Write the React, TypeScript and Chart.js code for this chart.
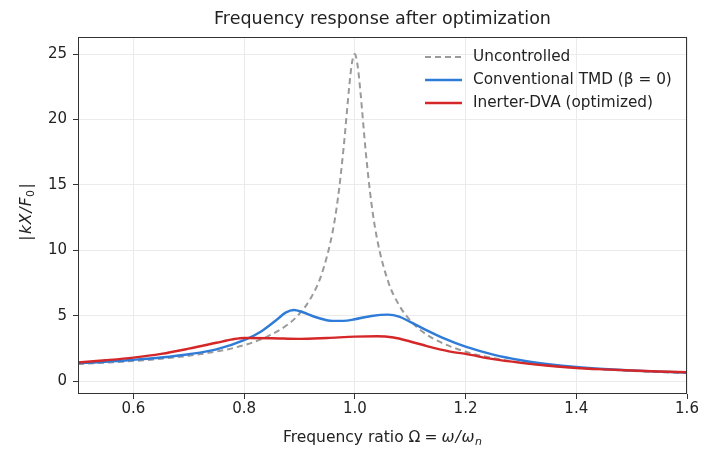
import React, { useEffect, useRef } from 'react';
import { Chart, registerables } from 'chart.js';

Chart.register(...registerables);

const W = 702;
const H = 451;
const FONT = '"DejaVu Sans", "Liberation Sans", sans-serif';

// ---- data ----
const omegaUnc = [0.5, 0.55, 0.6, 0.65, 0.7, 0.75, 0.8, 0.84, 0.88, 0.9, 0.92, 0.94, 0.96, 0.97, 0.98, 0.99, 0.995, 1.0, 1.005, 1.01, 1.02, 1.03, 1.04, 1.06, 1.08, 1.1, 1.12, 1.15, 1.2, 1.25, 1.3, 1.35, 1.4, 1.45, 1.5, 1.55, 1.6];
const magUnc = [1.33, 1.43, 1.56, 1.73, 1.96, 2.28, 2.77, 3.39, 4.38, 5.17, 6.33, 8.18, 11.45, 14.15, 17.94, 22.56, 24.37, 25.0, 24.14, 22.17, 17.42, 13.6, 10.92, 7.65, 5.82, 4.66, 3.87, 3.09, 2.27, 1.78, 1.45, 1.22, 1.04, 0.91, 0.8, 0.71, 0.64];

const omegaTmd = [0.5, 0.55, 0.6, 0.65, 0.7, 0.75, 0.8, 0.83, 0.86, 0.875, 0.89, 0.905, 0.93, 0.96, 0.98, 1.0, 1.03, 1.06, 1.08, 1.1, 1.13, 1.16, 1.2, 1.25, 1.3, 1.35, 1.4, 1.45, 1.5, 1.55, 1.6];
const magTmd = [1.4, 1.5, 1.65, 1.83, 2.08, 2.45, 3.15, 3.8, 4.75, 5.25, 5.45, 5.3, 4.9, 4.62, 4.62, 4.75, 5.0, 5.1, 4.95, 4.55, 3.9, 3.3, 2.65, 2.05, 1.62, 1.32, 1.1, 0.95, 0.84, 0.75, 0.68];

const omegaDva = [0.5, 0.55, 0.6, 0.65, 0.7, 0.75, 0.78, 0.8, 0.85, 0.9, 0.95, 1.0, 1.04, 1.07, 1.1, 1.13, 1.17, 1.2, 1.25, 1.3, 1.35, 1.4, 1.45, 1.5, 1.55, 1.6];
const magDva = [1.45, 1.62, 1.82, 2.1, 2.5, 2.95, 3.22, 3.32, 3.3, 3.25, 3.32, 3.42, 3.45, 3.35, 3.05, 2.7, 2.3, 2.1, 1.7, 1.42, 1.2, 1.03, 0.92, 0.83, 0.76, 0.7];

const xTicks = [0.6, 0.8, 1.0, 1.2, 1.4, 1.6];
const yTicks = [0, 5, 10, 15, 20, 25];

const titleText = 'Frequency response after optimization';
const legendLabels = ['Uncontrolled', 'Conventional TMD (β = 0)', 'Inerter-DVA (optimized)'];
const colors = ['#9a9a9a', '#2f7bd8', '#d62728'];

const pts = (xs: number[], ys: number[]) => xs.map((x, i) => ({ x, y: ys[i] }));

type Seg = { t: string; italic?: boolean; sub?: boolean; gap?: number };

function segFont(s: Seg, size: number) {
  const sz = s.sub ? Math.round(size * 0.7) : size;
  return `${s.italic ? 'italic ' : ''}${sz}px ${FONT}`;
}

function segWidth(ctx: CanvasRenderingContext2D, s: Seg, size: number) {
  ctx.font = segFont(s, size);
  return ctx.measureText(s.t).width + (s.gap || 0);
}

function drawRich(ctx: CanvasRenderingContext2D, segs: Seg[], cx: number, baseline: number, size: number) {
  let total = 0;
  for (const s of segs) total += segWidth(ctx, s, size);
  let x = cx - total / 2;
  for (const s of segs) {
    ctx.font = segFont(s, size);
    ctx.fillText(s.t, x, baseline + (s.sub ? size * 0.22 : 0));
    x += segWidth(ctx, s, size);
  }
}

const decorPlugin = {
  id: 'decor',
  afterDraw(chart: any) {
    const { ctx, chartArea } = chart;
    const { left, right, top, bottom } = chartArea;
    ctx.save();
    // frame
    ctx.strokeStyle = '#333';
    ctx.lineWidth = 1;
    ctx.strokeRect(left + 0.5, top + 0.5, right - left - 1, bottom - top - 1);

    ctx.fillStyle = '#222';
    ctx.textAlign = 'left';
    ctx.textBaseline = 'alphabetic';
    // title
    ctx.font = `17.5px ${FONT}`;
    const tw = ctx.measureText(titleText).width;
    ctx.fillText(titleText, (left + right) / 2 - tw / 2, 24);

    // x label
    drawRich(ctx, [
      { t: 'Frequency ratio ', gap: 0 },
      { t: 'Ω', gap: 4 },
      { t: '=', gap: 4 },
      { t: 'ω', italic: true, gap: 1 },
      { t: '/', italic: true, gap: 1 },
      { t: 'ω', italic: true, gap: 0.5 },
      { t: 'n', italic: true, sub: true },
    ], (left + right) / 2, 442, 15.5);

    // y label
    ctx.save();
    ctx.translate(31, 212);
    ctx.rotate(-Math.PI / 2);
    drawRich(ctx, [
      { t: '|', gap: 1.5 },
      { t: 'k', italic: true, gap: 1 },
      { t: 'X', italic: true, gap: 1 },
      { t: '/', italic: true, gap: 1 },
      { t: 'F', italic: true, gap: 0.5 },
      { t: '0', sub: true, gap: 1.5 },
      { t: '|' },
    ], 0, 0, 15.5);
    ctx.restore();

    // legend
    const rows = [57, 80, 103];
    const x0 = 425;
    const x1 = 462;
    rows.forEach((y, i) => {
      ctx.beginPath();
      ctx.strokeStyle = colors[i];
      ctx.lineWidth = i === 0 ? 2 : 2.4;
      ctx.setLineDash(i === 0 ? [6, 4] : []);
      ctx.moveTo(x0, y);
      ctx.lineTo(x1, y);
      ctx.stroke();
      ctx.setLineDash([]);
      ctx.font = `15.3px ${FONT}`;
      ctx.fillStyle = '#222';
      ctx.textBaseline = 'middle';
      ctx.fillText(legendLabels[i], 473, y);
    });
    ctx.restore();
  },
};

export default function App() {
  const ref = useRef<HTMLCanvasElement | null>(null);
  useEffect(() => {
    if (!ref.current) return;
    const chart = new Chart(ref.current, {
      type: 'line',
      data: {
        datasets: [
          {
            label: legendLabels[0],
            data: pts(omegaUnc, magUnc),
            borderColor: colors[0],
            borderWidth: 2,
            borderDash: [6, 4],
            pointRadius: 0,
            cubicInterpolationMode: 'monotone',
            order: 3,
          },
          {
            label: legendLabels[1],
            data: pts(omegaTmd, magTmd),
            borderColor: colors[1],
            borderWidth: 2.4,
            pointRadius: 0,
            cubicInterpolationMode: 'monotone',
            order: 2,
          },
          {
            label: legendLabels[2],
            data: pts(omegaDva, magDva),
            borderColor: colors[2],
            borderWidth: 2.4,
            pointRadius: 0,
            cubicInterpolationMode: 'monotone',
            order: 1,
          },
        ],
      },
      options: {
        animation: false,
        responsive: false,
        devicePixelRatio: 1,
        layout: { padding: { left: 0, right: 15, top: 37, bottom: 0 } },
        plugins: {
          legend: { display: false },
          title: { display: false },
          tooltip: { enabled: false },
        },
        scales: {
          x: {
            type: 'linear',
            min: 0.5,
            max: 1.6,
            afterBuildTicks: (s: any) => {
              s.ticks = xTicks.map((v) => ({ value: v }));
            },
            afterFit: (s: any) => {
              s.height = 57;
            },
            grid: { color: '#ebebeb', tickColor: '#333', tickLength: 5, lineWidth: 1 },
            border: { display: false },
            ticks: {
              font: { family: FONT, size: 15 },
              color: '#222',
              padding: 1,
              maxRotation: 0,
              autoSkip: false,
              callback: (v: any) => Number(v).toFixed(1),
            },
          },
          y: {
            type: 'linear',
            min: -0.96,
            max: 26.3,
            afterBuildTicks: (s: any) => {
              s.ticks = yTicks.map((v) => ({ value: v }));
            },
            afterFit: (s: any) => {
              s.width = 78;
            },
            grid: { color: '#ebebeb', tickColor: '#333', tickLength: 5, lineWidth: 1 },
            border: { display: false },
            ticks: {
              font: { family: FONT, size: 15 },
              color: '#222',
              padding: 6,
              autoSkip: false,
              callback: (v: any) => String(v),
            },
          },
        },
      },
      plugins: [decorPlugin],
    } as any);
    return () => chart.destroy();
  }, []);
  return (
    <div style={{ position: 'fixed', left: 0, top: 0, width: W, height: H, background: '#fff' }}>
      <canvas ref={ref} width={W} height={H} style={{ width: W, height: H, display: 'block' }} />
    </div>
  );
}
